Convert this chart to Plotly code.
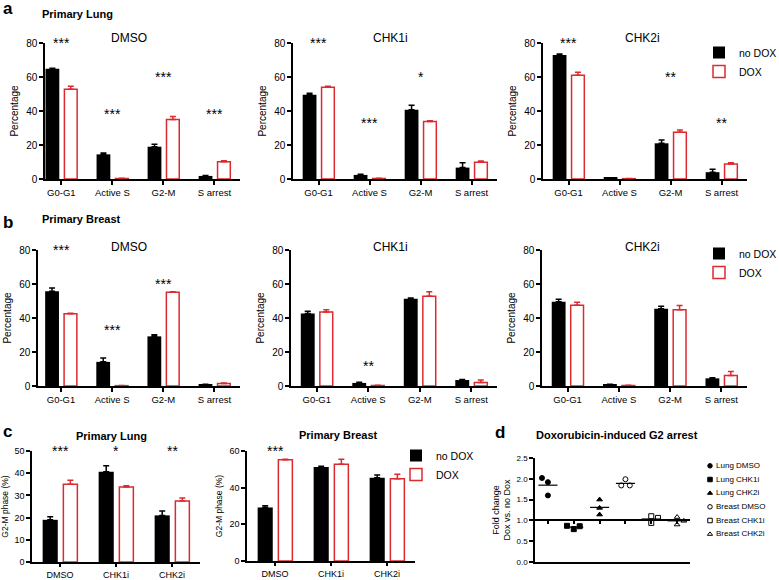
import plotly.graph_objects as go

W, H = 779, 580
FONT = 'Liberation Sans, Arial, sans-serif'
RED = '#dc2b30'

phases = ['G0-G1', 'Active S', 'G2-M', 'S arrest']
treatments = ['DMSO', 'CHK1i', 'CHK2i']

# % cells per phase, one row per treatment (DMSO, CHK1i, CHK2i); errors are upper SEM
lung_nodox = [[64.8, 14.5, 19.0, 1.8], [49.5, 2.4, 40.7, 6.7], [73.0, 0.6, 21.0, 4.0]]
lung_nodox_err = [[0.4, 0.8, 1.4, 0.3], [0.9, 0.4, 2.7, 2.9], [0.5, 0.2, 2.0, 1.7]]
lung_dox = [[52.8, 0.3, 35.0, 10.2], [54.0, 0.3, 33.8, 9.8], [61.0, 0.2, 27.5, 8.8]]
lung_dox_err = [[1.8, 0.1, 1.8, 0.5], [0.5, 0.1, 0.5, 0.8], [1.8, 0.1, 1.3, 0.7]]
lung_stars = [['***', '***', '***', '***'], ['***', '***', '*', ''], ['***', '', '**', '**']]

breast_nodox = [[55.7, 14.2, 29.2, 0.8], [42.6, 1.8, 51.3, 3.5], [49.5, 0.8, 45.4, 4.5]]
breast_nodox_err = [[1.9, 2.3, 1.0, 0.2], [1.4, 0.4, 0.4, 0.3], [1.6, 0.2, 1.5, 0.3]]
breast_dox = [[42.5, 0.2, 55.2, 1.4], [43.6, 0.3, 52.8, 2.0], [47.5, 0.3, 44.8, 6.2]]
breast_dox_err = [[0.3, 0.1, 0.3, 0.4], [1.3, 0.1, 2.7, 1.5], [1.7, 0.1, 2.5, 2.4]]
breast_stars = [['***', '***', '***', ''], ['', '**', '', ''], ['', '', '', '']]

# d: fold change of G2-M fraction, Dox vs no Dox (3 replicates each)
fold_groups = ['Lung DMSO', 'Lung CHK1i', 'Lung CHK2i', 'Breast DMSO', 'Breast CHK1i', 'Breast CHK2i']
fold_values = [[2.02, 1.92, 1.60], [0.87, 0.79, 0.86], [1.50, 1.30, 1.14],
               [1.99, 1.84, 1.84], [1.10, 0.94, 1.06], [1.08, 0.90, 0.99]]
fold_jitter = [[-0.23, 0, 0], [-0.26, 0, 0.23], [0, 0, 0],
               [0, -0.16, 0.17], [0, 0, 0.26], [0, 0, 0.26]]
fold_symbols = ['circle', 'square', 'triangle-up', 'circle-open', 'square-open', 'triangle-up-open']

G2M = phases.index('G2-M')

# star heights (data units) as placed on the original figure
lung_star_y = [[80, 38, 60, 38], [80, 33, 60, 33], [80, 33, 60, 33]]
breast_star_y = [[80, 33, 60, 33], [80, 12, 60, 12], [80, 12, 60, 12]]


def r(n):
    return '' if n == 1 else str(n)


def xdom(a, b):
    return [a / W, b / W]


def ydom(top, bottom):
    return [1 - bottom / H, 1 - top / H]


fig = go.Figure()


def add_bars(n, x, nodox, nodox_err, dox, dox_err, legend=None):
    show = legend is not None
    fig.add_trace(go.Bar(
        x=x, y=nodox, name='no DOX', xaxis='x' + r(n), yaxis='y' + r(n),
        offset=-0.31, width=0.27, marker=dict(color='black', line=dict(width=0)),
        error_y=dict(type='data', symmetric=False, array=nodox_err, arrayminus=[0] * len(x),
                     color='black', thickness=1.5, width=3),
        showlegend=show, legend=legend or 'legend'))
    fig.add_trace(go.Bar(
        x=x, y=dox, name='DOX', xaxis='x' + r(n), yaxis='y' + r(n),
        offset=0.06, width=0.25, marker=dict(color='white', line=dict(color=RED, width=1.5)),
        error_y=dict(type='data', symmetric=False, array=dox_err, arrayminus=[0] * len(x),
                     color=RED, thickness=1.5, width=3),
        showlegend=show, legend=legend or 'legend'))


axis_style = dict(showline=True, linecolor='black', linewidth=1.5, ticks='outside', ticklen=4,
                  tickwidth=1.5, tickcolor='black', showgrid=False, zeroline=False,
                  tickfont=dict(size=10, color='black'))

annotations = []


def note(text, x, y, size, bold=False, xanchor='center', **kw):
    annotations.append(dict(text=f'<b>{text}</b>' if bold else text, x=x / W, y=1 - y / H,
                            xref='paper', yref='paper', showarrow=False, xanchor=xanchor,
                            yanchor='middle', font=dict(size=size, color='black', family=FONT), **kw))


# ---- panels a and b ----
bar_panels = [  # axis n, x0, x1, top, bottom, range start
    (1, 45, 240, 43, 179, -0.32),
    (2, 293, 497, 43, 179, -0.5),
    (3, 543, 747, 43, 179, -0.5),
    (4, 38, 240, 250, 386, -0.45),
    (5, 291, 497, 250, 386, -0.5),
    (6, 542, 747, 250, 386, -0.5),
]
xs = list(range(len(phases)))
tissue_data = [(lung_nodox, lung_nodox_err, lung_dox, lung_dox_err, lung_stars, lung_star_y),
               (breast_nodox, breast_nodox_err, breast_dox, breast_dox_err, breast_stars, breast_star_y)]
layout_axes = {}
for k, (n, x0, x1, top, bot, start) in enumerate(bar_panels):
    t, i = divmod(k, 3)
    nd, nde, d, de, stars, stary = tissue_data[t]
    legend = None
    if i == 2:
        legend = 'legend' if t == 0 else 'legend2'
    add_bars(n, xs, nd[i], nde[i], d[i], de[i], legend)
    layout_axes['xaxis' + r(n)] = dict(axis_style, domain=xdom(x0, x1), anchor='y' + r(n),
                                       range=[start, 3.5], tickvals=xs, ticktext=phases,
                                       tickfont=dict(size=9.5, color='black'))
    layout_axes['yaxis' + r(n)] = dict(axis_style, domain=ydom(top, bot), anchor='x' + r(n),
                                       range=[0, 80], tickvals=[0, 20, 40, 60, 80],
                                       title=dict(text='Percentage', standoff=6,
                                                  font=dict(size=10, color='black')))
    for j, s in enumerate(stars[i]):
        if s:
            annotations.append(dict(text=s, x=j, y=stary[i][j], xref='x' + r(n), yref='y' + r(n),
                                    showarrow=False, yanchor='middle',
                                    font=dict(size=14, color='black', family=FONT)))

title_x = [129, 391, 642]
for i, name in enumerate(treatments):
    note(name, title_x[i], 38, 12)
    note(name, title_x[i], 247, 12)

note('a', 1, 8, 17, bold=True, xanchor='left')
note('Primary Lung', 40, 14, 11, bold=True, xanchor='left')
note('b', 1, 222, 17, bold=True, xanchor='left')
note('Primary Breast', 40, 219, 11, bold=True, xanchor='left')

# ---- panel c ----
c_panels = [  # axis n, x0, x1, top, bottom, ymax, dtick
    (7, 32, 200, 451, 562, 50, 10),
    (8, 247, 415, 451, 561, 60, 20),
]
cx = list(range(len(treatments)))
for t, (n, x0, x1, top, bot, ymax, dt) in enumerate(c_panels):
    nd, nde, d, de, stars, stary = tissue_data[t]
    add_bars(n, cx, [row[G2M] for row in nd], [row[G2M] for row in nde],
             [row[G2M] for row in d], [row[G2M] for row in de], 'legend3' if t == 1 else None)
    layout_axes['xaxis' + r(n)] = dict(axis_style, domain=xdom(x0, x1), anchor='y' + r(n),
                                       range=[-0.5, 2.5], tickvals=cx, ticktext=treatments,
                                       ticklen=3, tickfont=dict(size=9, color='black'))
    layout_axes['yaxis' + r(n)] = dict(axis_style, domain=ydom(top, bot), anchor='x' + r(n),
                                       range=[0, ymax], dtick=dt, tickfont=dict(size=9, color='black'),
                                       title=dict(text='G2-M phase (%)', standoff=5,
                                                  font=dict(size=8.5, color='black')))
    for j in cx:
        s = stars[j][G2M]
        if s:
            annotations.append(dict(text=s, x=j, y=ymax, xref='x' + r(n), yref='y' + r(n),
                                    showarrow=False, yanchor='middle',
                                    font=dict(size=14, color='black', family=FONT)))

note('c', 1, 431, 17, bold=True, xanchor='left')
note('Primary Lung', 111, 436, 11, bold=True)
note('Primary Breast', 338, 435, 11, bold=True)

# ---- panel d ----
d_dom_y = ydom(458, 562)
d_range = [0, 2.5]
for g, name in enumerate(fold_groups):
    vals = fold_values[g]
    fig.add_trace(go.Scatter(
        x=[g + j for j in fold_jitter[g]], y=vals, mode='markers', name=name,
        xaxis='x9', yaxis='y9', showlegend=False,
        marker=dict(symbol=fold_symbols[g], size=5, color='black', line=dict(color='black', width=1))))
    m = sum(vals) / len(vals)
    fig.add_trace(go.Scatter(x=[g - 0.37, g + 0.37], y=[m, m], mode='lines', xaxis='x10', yaxis='y9',
                             line=dict(color='black', width=1.2), showlegend=False, hoverinfo='skip'))
    # legend rows
    fig.add_trace(go.Scatter(x=[6], y=[g], mode='markers+text', text=[' ' + name], textposition='middle right',
                             textfont=dict(size=8, color='black', family=FONT),
                             xaxis='x11', yaxis='y11', showlegend=False,
                             marker=dict(symbol=fold_symbols[g], size=4.5, color='black',
                                         line=dict(color='black', width=1))))

d_x = [-0.5, len(fold_groups) - 0.5]
layout_axes['xaxis9'] = dict(axis_style, domain=xdom(535, 690), anchor='y9', range=d_x,
                             ticks='', showticklabels=False)
one_pos = d_dom_y[0] + (1.0 - d_range[0]) / (d_range[1] - d_range[0]) * (d_dom_y[1] - d_dom_y[0])
layout_axes['xaxis10'] = dict(axis_style, domain=xdom(535, 690), anchor='free', position=one_pos,
                              overlaying='x9', range=d_x, tickvals=list(range(len(fold_groups))),
                              ticklen=3, showticklabels=False)
layout_axes['yaxis9'] = dict(axis_style, domain=d_dom_y, anchor='x9', range=d_range, dtick=0.5,
                             tickformat='.1f', tickfont=dict(size=8, color='black'),
                             title=dict(text='Fold change<br>Dox vs. no Dox', standoff=4,
                                        font=dict(size=9, color='black')))
layout_axes['xaxis11'] = dict(domain=xdom(704, 779), anchor='y11', range=[0, 75], visible=False)
layout_axes['yaxis11'] = dict(domain=ydom(459, 541), anchor='x11', range=[5.5, -0.5], visible=False)

note('d', 493, 432, 17, bold=True, xanchor='left')
note('Doxorubicin-induced G2 arrest', 617, 435, 11, bold=True)

leg_common = dict(xanchor='left', yanchor='top', bgcolor='rgba(0,0,0,0)',
                  font=dict(size=10.5, color='black', family=FONT), tracegroupgap=0)
fig.update_layout(
    width=W, height=H, margin=dict(l=0, r=0, t=0, b=0, autoexpand=False),
    paper_bgcolor='white', plot_bgcolor='white',
    font=dict(family=FONT, color='black'),
    barmode='overlay', showlegend=True,
    legend=dict(leg_common, x=699 / W, y=1 - 38 / H),
    legend2=dict(leg_common, x=699 / W, y=1 - 239 / H),
    legend3=dict(leg_common, x=396 / W, y=1 - 441 / H),
    annotations=annotations,
    **layout_axes,
)

# drop the browser's default body margin so the 779x580 figure fills the window exactly
fig.write_html('out.html', config={'displayModeBar': False},
               post_script="document.body.style.margin='0';document.body.style.overflow='hidden';")
